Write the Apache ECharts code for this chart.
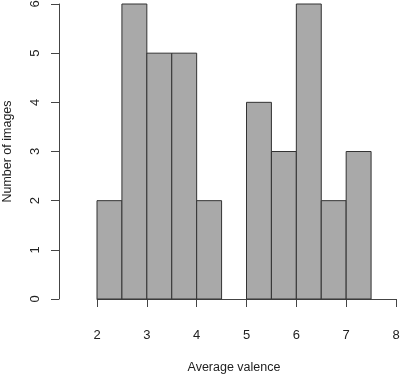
<!DOCTYPE html>
<html>
<head>
<meta charset="utf-8">
<script src="https://cdn.jsdelivr.net/npm/echarts@6/dist/echarts.min.js"></script>
<style>
  html, body { margin: 0; padding: 0; background: #fff; }
  #hist { width: 400px; height: 374px; }
</style>
</head>
<body>
<div id="hist"></div>
<script>
// histogram bins (width 0.5) and counts
const binStarts = [2, 2.5, 3, 3.5, 4, 4.5, 5, 5.5, 6, 6.5, 7];
const binWidth = 0.5;
const counts = [2, 6, 5, 5, 2, 0, 4, 3, 6, 2, 3];
const xTicks = [2, 3, 4, 5, 6, 7, 8];
const yTicks = [0, 1, 2, 3, 4, 5, 6];

const histData = binStarts.map((s, i) => [s, s + binWidth, counts[i]]);

const chart = echarts.init(document.getElementById('hist'));

const option = {
    animation: false,
    textStyle: { fontFamily: 'Liberation Sans, Arial, sans-serif' },
    grid: { left: 97, right: 4, top: 4, bottom: 75, outerBoundsMode: 'none' },
    xAxis: {
        type: 'value',
        min: xTicks[0],
        max: xTicks[xTicks.length - 1],
        interval: 1,
        offset: 12,
        name: 'Average valence',
        nameLocation: 'middle',
        nameGap: 50,
        nameTextStyle: { color: '#222', fontSize: 12.5, padding: [0, 25, 0, 0] },
        axisLine: { lineStyle: { color: '#444', width: 1 } },
        axisTick: { length: 8, lineStyle: { color: '#444' } },
        axisLabel: { color: '#222', fontSize: 13, margin: 18 },
        splitLine: { show: false }
    },
    yAxis: {
        type: 'value',
        min: yTicks[0],
        max: yTicks[yTicks.length - 1],
        interval: 1,
        offset: 38,
        name: 'Number of images',
        nameLocation: 'middle',
        nameGap: 45,
        nameRotate: 90,
        nameTextStyle: { color: '#222', fontSize: 12.5 },
        axisLine: { show: true, lineStyle: { color: '#444', width: 1 } },
        axisTick: { show: true, length: 8, lineStyle: { color: '#444' } },
        axisLabel: { color: '#222', fontSize: 13, margin: 17, rotate: 90 },
        splitLine: { show: false }
    },
    series: [
        {
            type: 'custom',
            renderItem: function (params, api) {
                if (!api.value(2)) return null;
                const p0 = api.coord([api.value(0), 0]);
                const p1 = api.coord([api.value(1), api.value(2)]);
                return {
                    type: 'rect',
                    shape: { x: p0[0], y: p1[1], width: p1[0] - p0[0], height: p0[1] - p1[1] },
                    style: { fill: '#a9a9a9', stroke: '#333', lineWidth: 1 }
                };
            },
            encode: { x: [0, 1], y: 2 },
            data: histData
        }
    ]
};

chart.setOption(option);
</script>
</body>
</html>
